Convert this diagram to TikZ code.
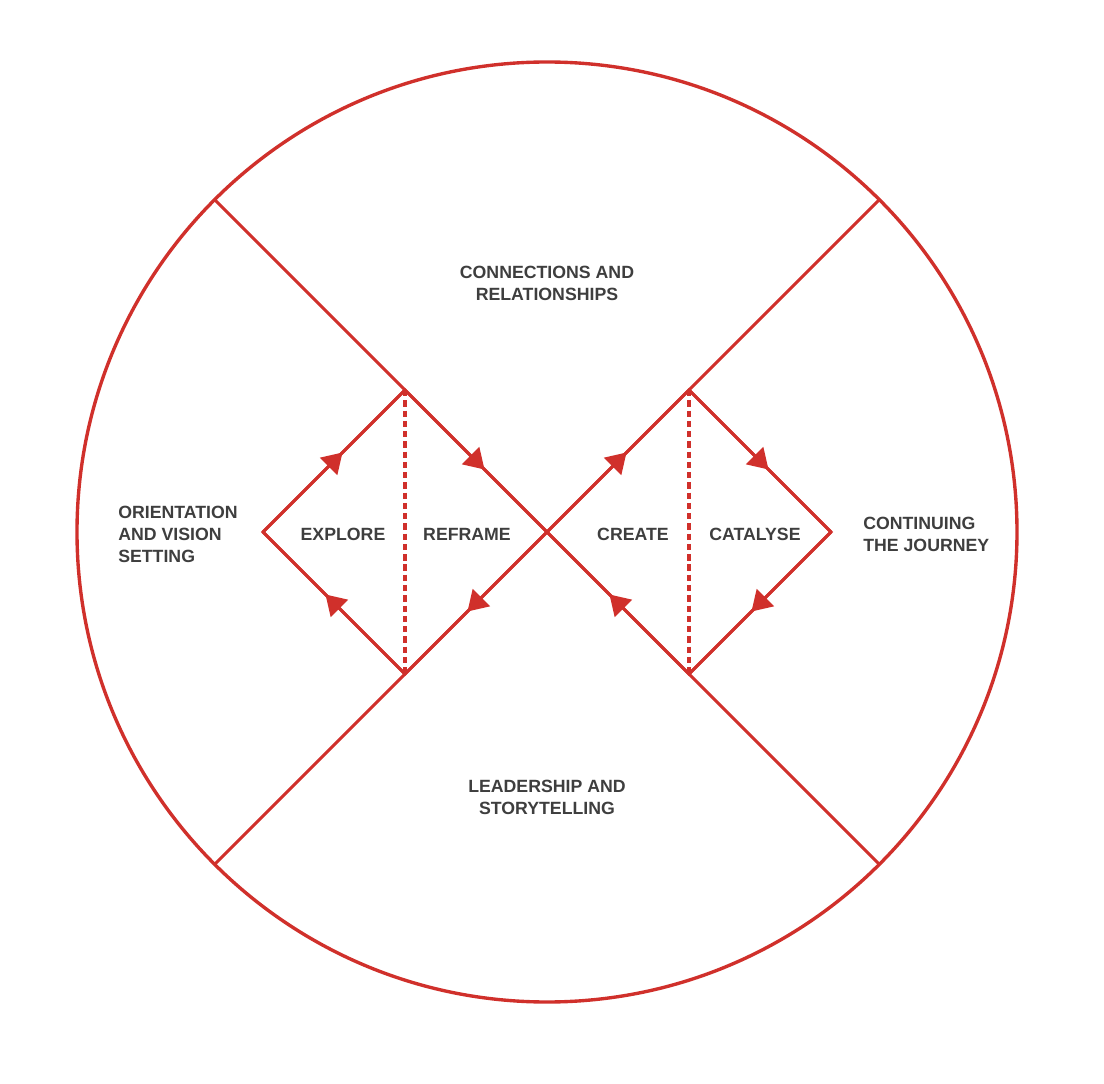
\documentclass[tikz,border=0pt]{standalone}
\usepackage{fontspec}
\setmainfont{Liberation Sans}
\usetikzlibrary{arrows.meta, decorations.markings}
\definecolor{myred}{HTML}{D0302B}
\definecolor{ink}{HTML}{3E3E3E}
\tikzstyle{rim}=[draw=myred,line width=2.4pt]
\tikzstyle{cut}=[myred,line width=2.1pt]
\tikzstyle{flow}=[cut,postaction={decorate},decoration={markings,mark=at position .56 with {\arrow{Triangle[length=14pt,width=17pt]}}}]
\tikzstyle{split}=[myred,line width=3pt,dash pattern=on 4.5pt off 2.8pt]
\tikzstyle{lbl}=[text=ink,inner sep=0pt,font=\bfseries\fontsize{12.6}{15.6}\selectfont]
\tikzstyle{board}=[x=0.25mm,y=-0.25mm]

\begin{document}
\begin{tikzpicture}[board]
                    \useasboundingbox (0,0) rectangle (1104,1084);
                    \coordinate (c) at (547,532);
                    \draw[rim] (c) circle (470);
                    % ends of the cross on the rim
                    \coordinate (e1) at (214.7,199.7);
                    \coordinate (e2) at (879.3,199.7);
                    \coordinate (e3) at (214.7,864.3);
                    \coordinate (e4) at (879.3,864.3);
                    % corners of the two loops
                    \coordinate (ll) at (263,532);
                    \coordinate (lt) at (405,390);
                    \coordinate (lb) at (405,674);
                    \coordinate (rt) at (689,390);
                    \coordinate (rr) at (831,532);
                    \coordinate (rb) at (689,674);
                    \foreach \a/\b in {e1/lt, e2/rt, e3/lb, e4/rb}
                        {\draw[cut] (\a) -- (\b);}
                    \draw[cut] (ll) -- (lt) -- (c) -- (lb) -- cycle;
                    \draw[cut] (c) -- (rt) -- (rr) -- (rb) -- cycle;
                    \foreach \a/\b in {ll/lt, lt/c, c/lb, lb/ll, c/rt, rt/rr, rr/rb, rb/c}
                        {\draw[flow] (\a) -- (\b);}
                    \draw[split] (lt) -- (lb);
                    \draw[split] (rt) -- (rb);
                    \node[lbl] (explore) at (343,534) {EXPLORE};
                    \node[lbl] (reframe) at (467,534) {REFRAME};
                    \node[lbl] (create) at (633,534) {CREATE};
                    \node[lbl] (catalyse) at (755,534) {CATALYSE};
                    \node[lbl,align=center] (conn) at (547,283) {CONNECTIONS AND\\RELATIONSHIPS};
                    \node[lbl,align=center] (lead) at (547,797) {LEADERSHIP AND\\STORYTELLING};
                    \node[lbl,align=left,anchor=west] (orient) at (118,534) {ORIENTATION\\AND VISION\\SETTING};
                    \node[lbl,align=left,anchor=west] (cont) at (863,534) {CONTINUING\\THE JOURNEY};
                \end{tikzpicture}
\end{document}
